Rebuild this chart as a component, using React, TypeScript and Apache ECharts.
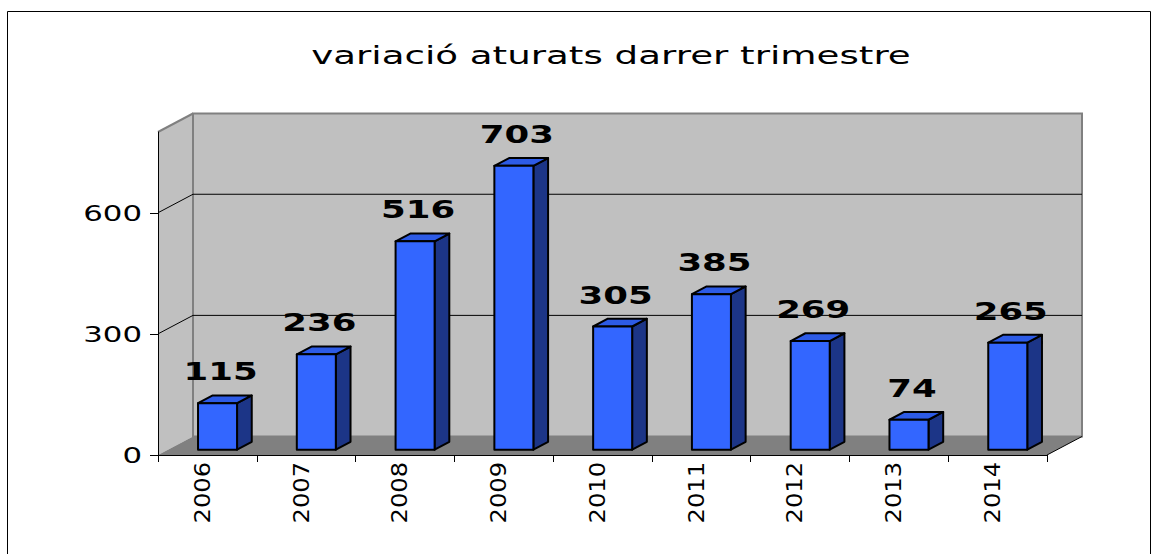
import React, { useEffect, useRef } from "react";
import * as echarts from "echarts";

const titleText = "variació aturats darrer trimestre";
const categories = ["2006", "2007", "2008", "2009", "2010", "2011", "2012", "2013", "2014"];
const values = [115, 236, 516, 703, 305, 385, 269, 74, 265];
const yTicks = [0, 300, 600];
const yMin = 0;
const yMax = 800;

// layout (front plane of the 3D box) and depth vector
const GL = 158;
const GT = 132;
const GW = 889;
const GH = 323;
const DX = 35;
const DY = -18.5;

const FONT = '"DejaVu Sans", Verdana, sans-serif';

function txt(x: number, y: number, text: string, opts: any) {
  return {
    type: "text",
    x,
    y,
    rotation: opts.rotation || 0,
    scaleX: opts.scaleX || 1,
    scaleY: 1,
    z2: 20,
    style: {
      text,
      x: 0,
      y: 0,
      fill: "#000",
      font: opts.font,
      align: opts.align,
      textAlign: opts.align,
      verticalAlign: opts.va,
      textVerticalAlign: opts.va,
    },
  };
}

export default function App() {
  const ref = useRef<HTMLDivElement>(null);

  useEffect(() => {
    if (!ref.current) return;
    const chart = echarts.init(ref.current, undefined, { renderer: "svg" });

    const renderBar = (params: any, api: any) => {
      const i = api.value(0);
      const v = api.value(1);
      const base = api.coord([i, 0]);
      const top = api.coord([i, v]);
      const band = api.size([1, 0])[0];
      const w = band * 0.395;
      const f1 = 0.29;
      const f2 = 0.71;
      const dx1 = DX * f1;
      const dy1 = DY * f1;
      const ddx = DX * (f2 - f1);
      const ddy = DY * (f2 - f1);
      const L = base[0] - w / 2 + dx1;
      const R = L + w;
      const yb = base[1] + dy1;
      const yt = top[1] + dy1;
      const edge = { stroke: "#000", lineWidth: 2, lineJoin: "round" };
      return {
        type: "group",
        children: [
          {
            type: "polygon",
            shape: { points: [[R, yb], [R + ddx, yb + ddy], [R + ddx, yt + ddy], [R, yt]] },
            style: { fill: "#1c3587", ...edge },
          },
          {
            type: "polygon",
            shape: { points: [[L, yt], [R, yt], [R + ddx, yt + ddy], [L + ddx, yt + ddy]] },
            style: { fill: "#2d5be6", ...edge },
          },
          {
            type: "polygon",
            shape: { points: [[L, yb], [R, yb], [R, yt], [L, yt]] },
            style: { fill: "#3366ff", ...edge },
          },
          txt((L + R) / 2 + 3, yt - 19, String(v), {
            font: `bold 25px ${FONT}`,
            align: "center",
            va: "bottom",
            scaleX: 1.42,
          }),
          txt(base[0] - 5, base[1] + 7, categories[params.dataIndex], {
            font: `21px ${FONT}`,
            align: "right",
            va: "middle",
            rotation: Math.PI / 2,
            scaleX: 1.15,
          }),
        ],
      };
    };

    const renderTick = (params: any, api: any) => {
      const v = api.value(1);
      const p = api.coord([0, v]);
      const cs = params.coordSys;
      const x0 = cs.x;
      const y = p[1];
      const children: any[] = [
        txt(x0 - 16, y, String(v), {
          font: `22px ${FONT}`,
          align: "right",
          va: "middle",
          scaleX: 1.4,
        }),
      ];
      if (v > yMin) {
        children.push({
          type: "polyline",
          shape: {
            points: [
              [x0, y],
              [x0 + DX, y + DY],
              [x0 + DX + cs.width, y + DY],
            ],
          },
          style: { stroke: "#000", lineWidth: 1, fill: null },
        });
      }
      return { type: "group", children };
    };

    const BX = GL + DX;
    const BY = GT + DY;
    const BB = GT + GH + DY;
    const FB = GT + GH;

    chart.setOption({
      animation: false,
      backgroundColor: "#ffffff",
      grid: { left: GL, top: GT, width: GW, height: GH, containLabel: false },
      xAxis: {
        type: "category",
        data: categories,
        boundaryGap: true,
        z: 10,
        axisLine: { show: true, lineStyle: { color: "#000", width: 1 } },
        axisTick: { show: true, length: 7, lineStyle: { color: "#000" } },
        axisLabel: { show: false },
        splitLine: { show: false },
      },
      yAxis: {
        type: "value",
        min: yMin,
        max: yMax,
        interval: 100,
        z: 10,
        axisLine: { show: true, lineStyle: { color: "#000", width: 1 } },
        axisTick: { show: true, length: 8, customValues: yTicks, lineStyle: { color: "#000" } },
        axisLabel: { show: false },
        splitLine: { show: false },
      },
      graphic: [
        {
          type: "rect",
          z: 0,
          shape: { x: 7.5, y: 11.5, width: 1143, height: 560 },
          style: { fill: "#fff", stroke: "#000", lineWidth: 1 },
        },
        {
          type: "polygon",
          z: 1,
          shape: { points: [[GL, GT], [BX, BY], [BX, BB], [GL, FB]] },
          style: { fill: "#c0c0c0" },
        },
        {
          type: "rect",
          z: 1,
          shape: { x: BX, y: BY, width: GW, height: GH },
          style: { fill: "#c0c0c0", stroke: "#808080", lineWidth: 2 },
        },
        {
          type: "polygon",
          z: 1,
          shape: { points: [[GL, FB], [BX, BB], [BX + GW, BB], [GL + GW, FB]] },
          style: { fill: "#808080" },
        },
        {
          type: "line",
          z: 2,
          shape: { x1: GL, y1: GT, x2: BX, y2: BY },
          style: { stroke: "#808080", lineWidth: 2 },
        },
        {
          type: "line",
          z: 2,
          shape: { x1: GL + GW, y1: FB, x2: BX + GW, y2: BB },
          style: { stroke: "#000", lineWidth: 1 },
        },
        {
          type: "text",
          z: 10,
          x: 611,
          y: 56,
          scaleX: 1.55,
          style: {
            text: titleText,
            x: 0,
            y: 0,
            fill: "#000",
            font: `24px ${FONT}`,
            align: "center",
            textAlign: "center",
            verticalAlign: "middle",
            textVerticalAlign: "middle",
          },
        },
      ],
      series: [
        {
          type: "custom",
          name: "grid",
          coordinateSystem: "cartesian2d",
          z: 3,
          clip: false,
          encode: { x: 0, y: 1 },
          data: yTicks.map((v) => [0, v]),
          renderItem: renderTick,
        },
        {
          type: "custom",
          name: "aturats",
          coordinateSystem: "cartesian2d",
          z: 5,
          clip: false,
          encode: { x: 0, y: 1 },
          data: values.map((v, i) => [i, v]),
          renderItem: renderBar,
        },
      ],
    });

    return () => chart.dispose();
  }, []);

  return (
    <div
      ref={ref}
      style={{ position: "absolute", left: 0, top: 0, width: 1152, height: 554 }}
    />
  );
}
